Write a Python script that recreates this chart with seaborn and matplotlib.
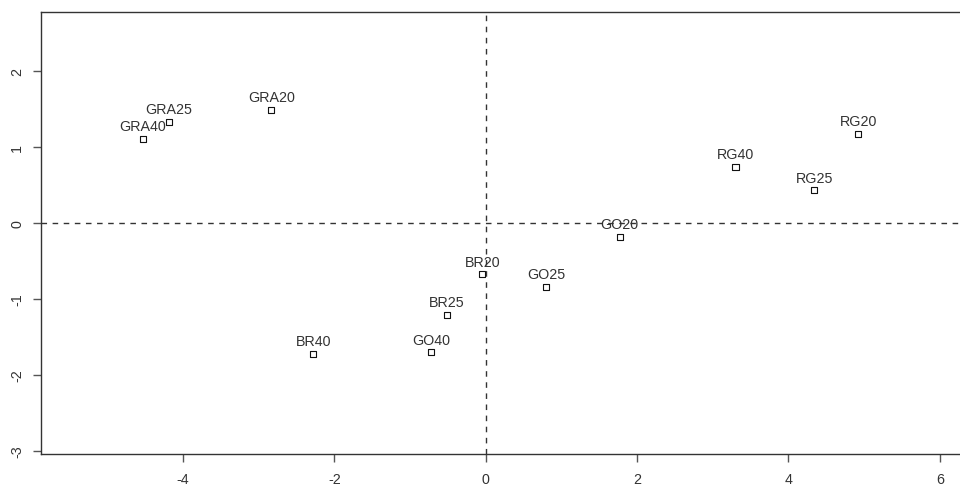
import matplotlib
matplotlib.use("Agg")
import matplotlib.pyplot as plt
import seaborn as sns
import pandas as pd

labels = ["GRA40", "GRA25", "GRA20", "BR40", "BR20", "BR25", "GO40",
          "GO25", "GO20", "RG40", "RG25", "RG20"]
dim1 = [-4.53, -4.19, -2.835, -2.28, -0.045, -0.515, -0.725,
        0.80, 1.77, 3.30, 4.34, 4.92]
dim2 = [1.105, 1.33, 1.49, -1.72, -0.675, -1.21, -1.70,
        -0.84, -0.18, 0.74, 0.43, 1.17]
xticks = [-4, -2, 0, 2, 4, 6]
yticks = [-3, -2, -1, 0, 1, 2]

sns.set_style("white")
plt.rcParams["font.family"] = ["Liberation Sans", "DejaVu Sans"]

df = pd.DataFrame({"label": labels, "x": dim1, "y": dim2})

fig = plt.figure(figsize=(9.6, 4.89), dpi=100)
ax = fig.add_axes([41 / 960, 1 - 455 / 489, 1.005 - 41 / 960, (455 - 13) / 489])

ax.axhline(0, color="#333333", lw=1, ls=(0, (4, 4)), zorder=1)
ax.axvline(0, color="#333333", lw=1, ls=(0, (4, 4)), zorder=1)

sns.scatterplot(data=df, x="x", y="y", marker="s", s=20, facecolor="none",
                edgecolor="#111111", linewidth=0.8, ax=ax, zorder=3)

for lab, xv, yv in zip(labels, dim1, dim2):
    ax.annotate(lab, (xv, yv), xytext=(0, 4), textcoords="offset points",
                ha="center", va="bottom", fontsize=10.3, color="#333333", zorder=4)

ax.set_xlim(-5.877, 6.33)
ax.set_ylim(-3.04, 2.776)
ax.set_xticks(xticks)
ax.set_yticks(yticks)
ax.set_xticklabels([str(t) for t in xticks])
ax.set_yticklabels([str(t) for t in yticks], rotation=90, va="center")
ax.set_xlabel("")
ax.set_ylabel("")
ax.tick_params(axis="both", direction="out", length=6, width=1, color="#555555",
               labelsize=10.3, labelcolor="#333333")
ax.tick_params(axis="x", pad=7)
ax.tick_params(axis="y", pad=6)
ax.tick_params(bottom=True, left=True)
for sp in ax.spines.values():
    sp.set_visible(True)
    sp.set_color("#333333")
    sp.set_linewidth(1)

fig.savefig("out.png", dpi=100)
